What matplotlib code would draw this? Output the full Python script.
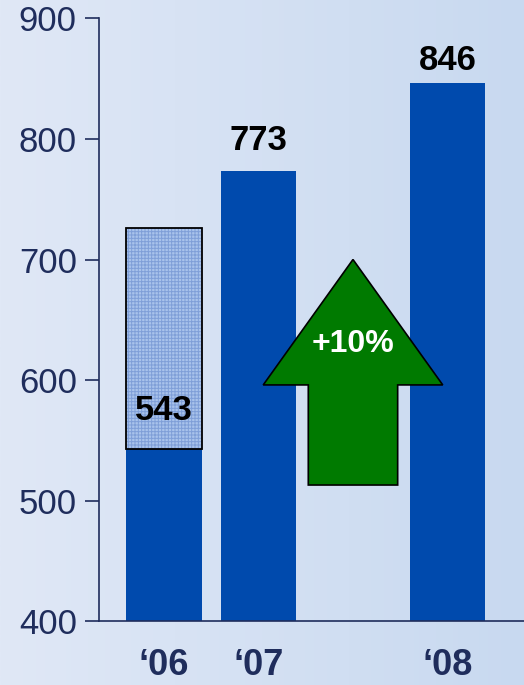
import numpy as np
import matplotlib
matplotlib.use("Agg")
import matplotlib.pyplot as plt
from matplotlib.patches import Polygon

# data
years = ["\u201806", "\u201807", "\u201808"]
xpos = [0, 1, 3]                  # slot 2 left free for the growth arrow
values = [543, 773, 846]
extra_06 = 726                    # top of the hatched box above the '06 bar
growth_label = "+10%"
yticks = [400, 500, 600, 700, 800, 900]

NAVY, BLUE, GREEN = "#1F2D5C", "#004AAD", "#007A00"
plt.rcParams["font.family"] = ["Liberation Sans", "DejaVu Sans"]
plt.rcParams["hatch.linewidth"] = 0.7

fig = plt.figure(figsize=(5.24, 6.85), dpi=100)

# soft left-to-right gradient background
bg = fig.add_axes([0, 0, 1, 1], zorder=-1)
c0 = np.array([224, 232, 246]) / 255
c1 = np.array([200, 217, 240]) / 255
t = np.linspace(0, 1, 256)[None, :, None]
bg.imshow(c0 + (c1 - c0) * t, aspect="auto", extent=[0, 1, 0, 1])
bg.axis("off")

ax = fig.add_axes([99 / 524, 63.7 / 685, 425 / 524, 603 / 685])
ax.patch.set_alpha(0)
ax.set_xlim(-0.688, 3.81)
ax.set_ylim(400, 900)

ax.bar(xpos, [v - 400 for v in values], bottom=400, width=0.8, color=BLUE, zorder=2)
# hatched box on top of '06
ax.bar(xpos[0], extra_06 - values[0], bottom=values[0], width=0.8, color="#a9c3eb",
       hatch="+++++", edgecolor="#7f9fd8", lw=0, zorder=2)
ax.bar(xpos[0], extra_06 - values[0], bottom=values[0], width=0.8, fill=False,
       edgecolor="black", lw=1.3, zorder=3)

offs = [20.5, 15.5, 9.8]
for x, v, o in zip(xpos, values, offs):
    ax.annotate(f"{v}", (x, v), xytext=(0, o), textcoords="offset points",
                ha="center", va="baseline", fontsize=25, fontweight="bold",
                color="black", zorder=4)

# growth arrow between '07 and '08
cx, tip, neck, base, hw, sw = 2.0, 700, 596, 513, 0.95, 0.473
arrow = Polygon([(cx, tip), (cx + hw, neck), (cx + sw, neck), (cx + sw, base),
                 (cx - sw, base), (cx - sw, neck), (cx - hw, neck)],
                closed=True, facecolor=GREEN, edgecolor="black", lw=1.2, zorder=4)
ax.add_patch(arrow)
ax.text(cx, 623, growth_label, ha="center", va="baseline", fontsize=23,
        fontweight="bold", color="white", zorder=5)

for s in ["top", "right"]:
    ax.spines[s].set_visible(False)
for s in ["left", "bottom"]:
    ax.spines[s].set_color(NAVY)
    ax.spines[s].set_linewidth(1.2)

ax.set_yticks(yticks)
ax.tick_params(axis="y", direction="out", length=10, width=1.2, color=NAVY,
               labelsize=25, labelcolor=NAVY, pad=6)
ax.set_xticks(xpos)
ax.set_xticklabels(years, fontsize=26, fontweight="bold", color=NAVY)
ax.tick_params(axis="x", length=0, pad=19)

fig.savefig("out.png", dpi=100)
